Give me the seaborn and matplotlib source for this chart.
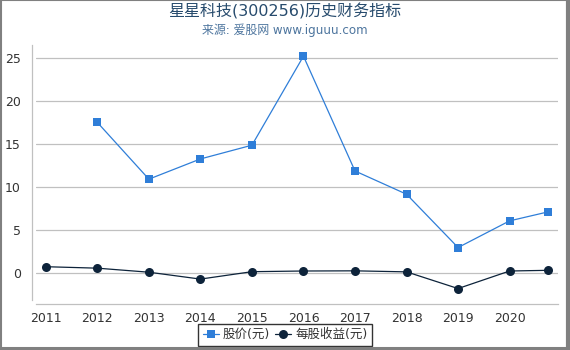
import pandas as pd
import matplotlib.pyplot as plt
import seaborn as sns
import numpy as np

# 数据
years = [2011, 2012, 2013, 2014, 2015, 2016, 2017, 2018, 2019, 2020, 2020.75]
price = [np.nan, 17.5, 10.9, 13.25, 14.85, 25.2, 11.85, 9.15, 2.95, 6.05, 7.1]
eps = [0.72, 0.55, 0.08, -0.72, 0.14, 0.22, 0.24, 0.12, -1.82, 0.22, 0.3]
xticks = [2011, 2012, 2013, 2014, 2015, 2016, 2017, 2018, 2019, 2020]
yticks = [0, 5, 10, 15, 20, 25]

df = pd.DataFrame({'年份': years, '股价(元)': price, '每股收益(元)': eps})

sns.set_style('white')
plt.rcParams['font.family'] = ['DejaVu Sans', 'Noto Sans CJK SC']

fig = plt.figure(figsize=(5.7, 3.5), dpi=100)
ax = fig.add_axes([0.0632, 0.1429, 0.9158, 0.7285])

sns.lineplot(data=df, x='年份', y='股价(元)', ax=ax, color='#2f7ed8', lw=0.9,
             marker='s', markersize=6, markeredgewidth=0, label='股价(元)')
sns.lineplot(data=df, x='年份', y='每股收益(元)', ax=ax, color='#0d233a', lw=0.9,
             marker='o', markersize=6.5, markeredgewidth=0, label='每股收益(元)')

ax.set_xlim(2010.81, 2020.94)
ax.set_ylim(-3.15, 26.5)
ax.set_xticks(xticks)
ax.set_yticks(yticks)
ax.set_xlabel('')
ax.set_ylabel('')
ax.yaxis.grid(True, color='#c0c0c0', lw=0.9)
ax.set_axisbelow(True)

for s in ['top', 'right']:
    ax.spines[s].set_visible(False)
ax.spines['left'].set_position(('outward', 3))
ax.spines['bottom'].set_position(('outward', 3))
ax.spines['left'].set_color('#c0c0c0')
ax.spines['bottom'].set_color('#c0c0c0')
ax.spines['left'].set_linewidth(0.9)
ax.spines['bottom'].set_linewidth(0.9)
ax.tick_params(axis='x', length=3.5, width=0.9, color='#c0c0c0', labelsize=9,
               labelcolor='#333333', pad=2)
ax.tick_params(axis='y', length=0, labelsize=9, labelcolor='#333333', pad=8)

fig.text(0.5, 0.967, '星星科技(300256)历史财务指标', ha='center', va='center',
         fontsize=11.5, color='#274b6d')
fig.text(0.5, 0.914, '来源: 爱股网 www.iguuu.com', ha='center', va='center',
         fontsize=8.6, color='#4d759e')

leg = ax.legend(loc='lower center', bbox_to_anchor=(0.5, -0.005), bbox_transform=fig.transFigure,
                ncol=2, frameon=True, fontsize=9, handlelength=1.3, handletextpad=0.3,
                columnspacing=0.4, borderpad=0.35, fancybox=False)
leg.get_frame().set_edgecolor('black')
leg.get_frame().set_linewidth(1)
for t in leg.get_texts():
    t.set_color('#333333')

# 外框：上、左细，右、下粗
frame = dict(transform=fig.transFigure, color='#808080', solid_capstyle='butt')
fig.add_artist(plt.Line2D([0, 1], [0.9986, 0.9986], lw=0.8, **frame))
fig.add_artist(plt.Line2D([0.0018, 0.0018], [0, 1], lw=1.5, **frame))
fig.add_artist(plt.Line2D([0.9965, 0.9965], [0, 1], lw=3, **frame))
fig.add_artist(plt.Line2D([0, 1], [0.0043, 0.0043], lw=2.2, **frame))

fig.savefig('out.png', dpi=100)
